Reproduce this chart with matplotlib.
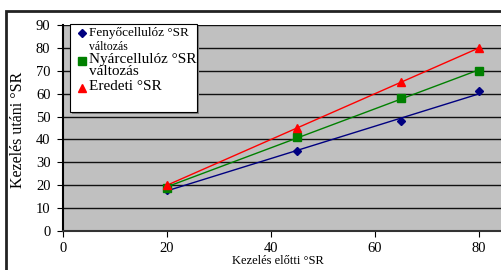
import matplotlib
matplotlib.use('Agg')
import matplotlib.pyplot as plt
import numpy as np
from matplotlib.patches import Rectangle

plt.rcParams['font.family'] = ['Liberation Serif', 'DejaVu Serif']

# data
x_before = [20, 45, 65, 80]
fenyo = [18, 35, 48, 61]
nyar = [19, 41, 58, 70]
eredeti = [20, 45, 65, 80]
xticks = [0, 20, 40, 60, 80]
yticks = [0, 10, 20, 30, 40, 50, 60, 70, 80, 90]

W, H = 501, 270
fig = plt.figure(figsize=(W / 100, H / 100), dpi=100)

# outer chart border
fig.patches.append(Rectangle((6 / W, -0.05), 1.1, 1 - 11 / H + 0.05, transform=fig.transFigure,
                             fill=False, edgecolor='#222222', linewidth=2))

ax = fig.add_axes([63 / W, 1 - 231 / H, (W - 63) / W, (231 - 25) / H])
ax.set_facecolor('#c0c0c0')

series = [
    (fenyo, '#000080', 'D', 4),
    (nyar, '#008000', 's', 6),
    (eredeti, '#ff0000', '^', 6),
]
xs = np.array(x_before)
for ys, col, mk, ms in series:
    k, b = np.polyfit(xs, ys, 1)
    ax.plot([xs[0], xs[-1]], [k * xs[0] + b, k * xs[-1] + b], color=col, linewidth=1, zorder=3)
    ax.plot(xs, ys, linestyle='none', marker=mk, markersize=ms, color=col, zorder=4)

ax.set_xlim(0, (W - 63) / 5.2)
ax.set_ylim(0, 90)
ax.set_xticks(xticks)
ax.set_yticks(yticks)
ax.yaxis.grid(True, color='#111111', linewidth=1)
ax.set_axisbelow(True)
ax.tick_params(labelsize=10.5, direction='out', length=4, color='black', pad=5)
ax.tick_params(axis='x', pad=4)
for s in ['top', 'right']:
    ax.spines[s].set_visible(False)
ax.spines['left'].set_linewidth(1.5)
ax.spines['bottom'].set_linewidth(1.5)
ax.spines['bottom'].set_color('#333333')

fig.text(278 / W, 1 - 261 / H, 'Kezelés előtti °SR', ha='center', va='center', fontsize=9)
fig.text(18 / W, 1 - 130 / H, 'Kezelés utáni °SR', ha='center', va='center', rotation=90, fontsize=11.5)

# legend box drawn by hand
fig.patches.append(Rectangle((72 / W, 1 - 114 / H), 127 / W, 88 / H, transform=fig.transFigure,
                             facecolor='#808080', edgecolor='none', zorder=5))
fig.patches.append(Rectangle((70 / W, 1 - 112 / H), 127 / W, 88 / H, transform=fig.transFigure,
                             facecolor='white', edgecolor='black', linewidth=0.8, zorder=6))
fig.lines.append(plt.Line2D([82 / W], [1 - 33 / H], transform=fig.transFigure, marker='D',
                            markersize=4, color='#000080', zorder=7))
fig.lines.append(plt.Line2D([82 / W], [1 - 61 / H], transform=fig.transFigure, marker='s',
                            markersize=6, color='#008000', zorder=7))
fig.lines.append(plt.Line2D([82 / W], [1 - 88 / H], transform=fig.transFigure, marker='^',
                            markersize=6, color='#ff0000', zorder=7))
fig.text(89 / W, 1 - 33 / H, 'Fenyőcellulóz °SR', va='center', fontsize=9.5, zorder=8)
fig.text(89 / W, 1 - 47 / H, 'változás', va='center', fontsize=8.5, zorder=8)
fig.text(89 / W, 1 - 59 / H, 'Nyárcellulóz °SR', va='center', fontsize=11, zorder=8)
fig.text(89 / W, 1 - 72 / H, 'változás', va='center', fontsize=11, zorder=8)
fig.text(89 / W, 1 - 86 / H, 'Eredeti °SR', va='center', fontsize=11, zorder=8)

plt.savefig('out.png', dpi=100)
